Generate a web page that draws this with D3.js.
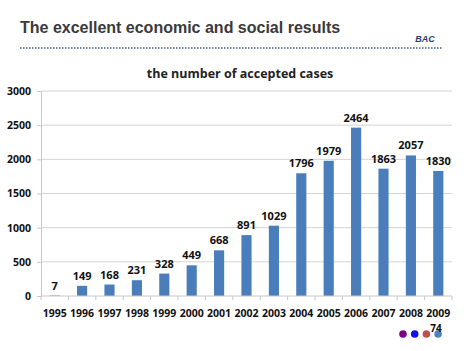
<!DOCTYPE html>
<html><head><meta charset="utf-8">
<script src="https://cdn.jsdelivr.net/npm/d3@7"></script>
<style>body{margin:0;background:#fff;}svg{display:block;}</style>
</head><body>
<svg id="c" width="468" height="351"></svg>
<script>
const years = ["1995","1996","1997","1998","1999","2000","2001","2002","2003","2004","2005","2006","2007","2008","2009"];
const cases = [7,149,168,231,328,449,668,891,1029,1796,1979,2464,1863,2057,1830];
const yTicks = [0,500,1000,1500,2000,2500,3000];
const dotColors = ["#7f007f","#1010f0","#c0504d","#4f81bd"];

const svg = d3.select("#c");
const font = "'Open Sans', 'Liberation Sans', Arial, sans-serif";
const L = 41, R = 452, T = 91, B = 296;

svg.append("text").attr("x",20).attr("y",33).attr("font-family","'Liberation Sans', Arial, sans-serif")
  .attr("font-weight","bold").attr("font-size",16).attr("fill","#3a3a3a").text("The excellent economic and social results");
svg.append("text").attr("x",425).attr("y",42).attr("text-anchor","middle").attr("font-family","'Liberation Sans', Arial, sans-serif")
  .attr("font-weight","bold").attr("font-style","italic").attr("font-size",9).attr("fill","#1f3d7a").text("BAC");
svg.append("line").attr("x1",20).attr("x2",443).attr("y1",48).attr("y2",48)
  .attr("stroke","#3b5ea8").attr("stroke-width",1.5).attr("stroke-dasharray","1.5,1.5");

svg.append("text").attr("x",240).attr("y",78).attr("text-anchor","middle").attr("font-family",font)
  .attr("font-weight","bold").attr("font-size",12.5).attr("fill","#222").text("the number of accepted cases");

const x = d3.scaleBand().domain(years).range([L,R]).paddingInner(0.63).paddingOuter(0.315);
const y = d3.scaleLinear().domain([0,3000]).range([B,T]);

// gridlines
svg.append("g").selectAll("line").data(yTicks.filter(d=>d>0)).join("line")
  .attr("x1",L).attr("x2",R).attr("y1",d=>y(d)).attr("y2",d=>y(d))
  .attr("stroke","#d4d4d4").attr("stroke-width",1);

// y axis
const ya = svg.append("g").attr("transform",`translate(${L},0)`)
  .call(d3.axisLeft(y).tickValues(yTicks).tickSize(4).tickPadding(6).tickFormat(d3.format("d")));
ya.select(".domain").attr("stroke","#c8c8c8");
ya.selectAll(".tick line").attr("stroke","#c8c8c8");
ya.selectAll("text").attr("font-family",font).attr("font-weight","bold").attr("font-size",10.5).attr("fill","#111");

// bars
svg.append("g").selectAll("rect").data(years).join("rect")
  .attr("x",d=>x(d)).attr("width",x.bandwidth())
  .attr("y",(d,i)=>y(cases[i])).attr("height",(d,i)=>B-y(cases[i]))
  .attr("fill","#4a7ebb");

// value labels
svg.append("g").selectAll("text").data(years).join("text")
  .attr("x",d=>x(d)+x.bandwidth()/2).attr("y",(d,i)=>y(cases[i])-6)
  .attr("text-anchor","middle").attr("font-family",font).attr("font-weight","bold")
  .attr("font-size",11).attr("fill","#111").text((d,i)=>cases[i]);

// x axis
const xa = svg.append("g");
xa.append("line").attr("x1",L).attr("x2",R).attr("y1",B).attr("y2",B).attr("stroke","#c8c8c8");
xa.selectAll("line.t").data(d3.range(years.length+1)).join("line").attr("class","t")
  .attr("x1",i=>L+i*(R-L)/years.length).attr("x2",i=>L+i*(R-L)/years.length)
  .attr("y1",B).attr("y2",B+4).attr("stroke","#c8c8c8");
xa.selectAll("text").data(years).join("text")
  .attr("x",d=>x(d)+x.bandwidth()/2).attr("y",317).attr("text-anchor","middle")
  .attr("font-family",font).attr("font-weight","bold").attr("font-size",10.5).attr("fill","#111").text(d=>d);

// footer dots & page number
svg.append("g").selectAll("circle").data(dotColors).join("circle")
  .attr("cx",(d,i)=>403+i*11.7).attr("cy",334).attr("r",3.8).attr("fill",d=>d);
svg.append("text").attr("x",436).attr("y",331.5).attr("text-anchor","middle").attr("font-family",font)
  .attr("font-weight","bold").attr("font-size",10).attr("fill","#111").text("74");
</script>
</body></html>
